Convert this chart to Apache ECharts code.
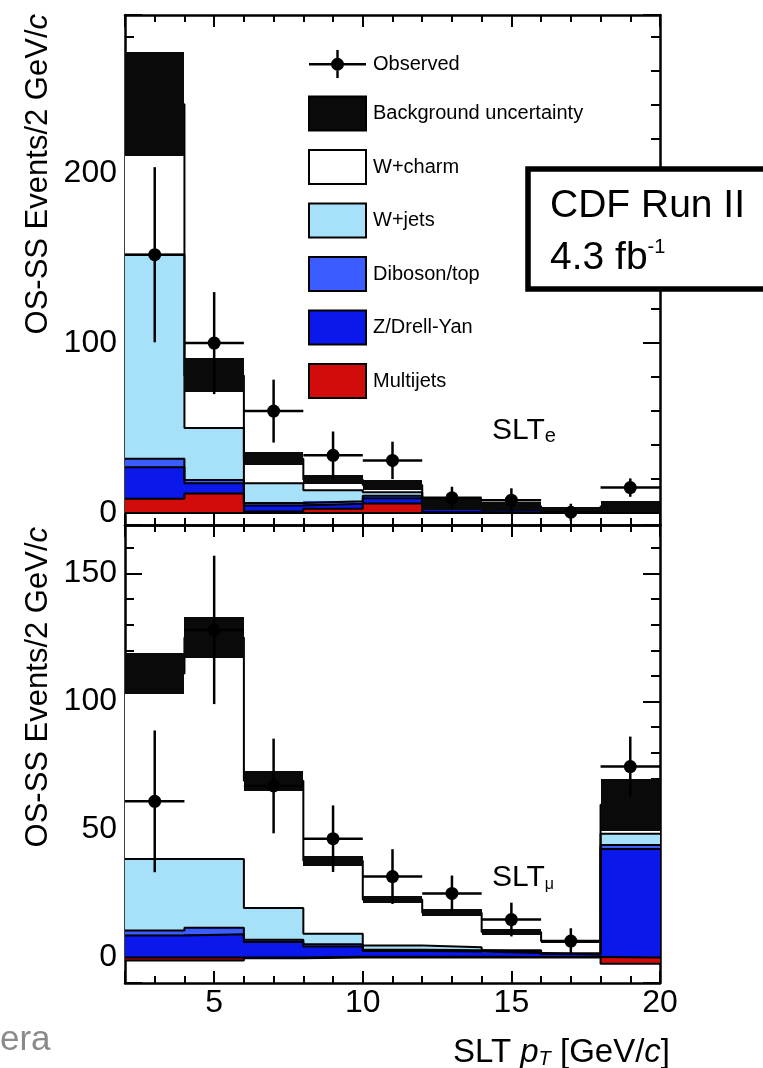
<!DOCTYPE html>
<html>
<head>
<meta charset="utf-8">
<script src="https://cdn.jsdelivr.net/npm/echarts@6/dist/echarts.min.js"></script>
<style>
  html, body { margin: 0; padding: 0; background: #fff; }
  #chart { width: 763px; height: 1068px; }
</style>
</head>
<body>
<div id="chart"></div>
<script>
// bin edges, SLT pT in GeV/c
const binEdges = [2, 4, 6, 8, 10, 12, 14, 16, 18, 20];

// SLT_e panel, OS-SS events per 2 GeV/c (stacked bottom to top)
const eMultijets = [8.5, 11.5, 1, 2.5, 5.7, 0.5, 0.3, 0.1, 0.2];
const eZdy = [18.5, 6, 3.5, 3, 3, 2.5, 1.5, 0.6, 2.5];
const eDiboson = [5, 2, 1.5, 1.5, 1.5, 0.5, 0.4, 0.3, 0.4];
const eWjets = [120, 30.5, 11.5, 6.5, 2, 0.8, 0.8, 0.4, 0.4];
const eWcharm = [88.5, 31, 14.5, 6.2, 4.3, 1, 1, 0.4, 0.4];
const eBkgErr = [30.5, 10, 3.8, 2.7, 3, 3.3, 2.7, 1.9, 3.3];
const eObserved = [152, 100, 60, 34, 31, 9, 7.6, 0.5, 15];
const eObsErr = [51.5, 30, 18.5, 14, 11, 6.5, 7, 5, 5.4];

// SLT_mu panel
const muMultijets = [-1.2, -1.2, -0.3, 0.3, 0.3, 0.3, 0.2, 0.2, -2.5];
const muZdy = [8.6, 9.1, 6, 4, 2.2, 2, 1.5, 0.8, 42.4];
const muDiboson = [1.9, 2.5, 0.9, 0.8, 0.5, 0.5, 0.5, 0.3, 1.5];
const muWjets = [28, 26.9, 12.4, 4.1, 1.7, 1.2, 0.6, 0.3, 4.4];
const muWcharm = [72.5, 86.5, 49.7, 28.6, 17.9, 13.5, 7.1, 4.7, 11.4];
const muBkgErr = [8, 8, 4, 2, 1.3, 1.5, 1.3, 0.7, 10.1];
const muObserved = [61, 128, 67, 46.4, 31.6, 25, 14.8, 6.4, 74.6];
const muObsErr = [27.7, 29, 18.5, 13, 10.7, 7, 6.6, 5, 11.7];

const componentNames = ["Multijets", "Z/Drell-Yan", "Diboson/top", "W+jets", "W+charm"];
const componentColors = ["#d20b0b", "#0a18ec", "#3b5cff", "#a6e1f9", "#ffffff"];
const BAND_COLOR = "#0a0a0a";
const FONT = "Liberation Sans, Arial, Helvetica, sans-serif";

// stack like a histogram: positives upward from 0, negatives downward
function stackBins(parts) {
  const pos = parts[0].map(() => 0);
  const neg = parts[0].map(() => 0);
  return parts.map((vals) =>
    vals.map((v, i) => {
      if (v >= 0) {
        const lo = pos[i];
        pos[i] += v;
        return [lo, pos[i]];
      }
      const hi = neg[i];
      neg[i] += v;
      return [neg[i], hi];
    })
  );
}

function renderBox(params, api) {
  const p0 = api.coord([api.value(0), api.value(2)]);
  const p1 = api.coord([api.value(1), api.value(3)]);
  // snap to whole pixels so neighbouring bins do not show seams
  const x0 = Math.round(p0[0]);
  const x1 = Math.round(p1[0]);
  const yTop = Math.round(p1[1]);
  const yBot = Math.round(p0[1]);
  return {
    type: "rect",
    shape: { x: x0, y: yTop, width: x1 - x0, height: yBot - yTop },
    style: { fill: api.visual("color") },
  };
}

function renderErrorBar(params, api) {
  const left = api.coord([api.value(0), api.value(2)]);
  const right = api.coord([api.value(1), api.value(2)]);
  const cx = (api.value(0) + api.value(1)) / 2;
  const top = api.coord([cx, api.value(2) + api.value(3)]);
  const bottom = api.coord([cx, api.value(2) - api.value(3)]);
  const style = { stroke: "#000", lineWidth: 2.5, opacity: 1 };
  return {
    type: "group",
    children: [
      { type: "line", shape: { x1: left[0], y1: left[1], x2: right[0], y2: right[1] }, style },
      { type: "line", shape: { x1: top[0], y1: top[1], x2: bottom[0], y2: bottom[1] }, style },
    ],
  };
}

function stepData(levels) {
  return binEdges.map((x, j) => [x, levels[Math.min(j, levels.length - 1)]]);
}

function panelSeries(g, parts, bkgErr, obs, obsErr) {
  const axes = { xAxisIndex: 2 * g, yAxisIndex: 2 * g };
  const stacked = stackBins(parts);
  const series = [];

  stacked.forEach((rows, k) => {
    series.push({
      type: "custom",
      name: componentNames[k],
      ...axes,
      renderItem: renderBox,
      itemStyle: { color: componentColors[k] },
      encode: { x: [0, 1], y: [2, 3] },
      data: rows.map((r, i) => [binEdges[i], binEdges[i + 1], r[0], r[1]]),
      clip: true,
      silent: true,
      z: 1,
    });
  });

  const bottom = stacked[0].map((r, i) => Math.min(...stacked.map((c) => c[i][0])));
  const levels = [bottom, ...stacked.map((c) => c.map((r) => r[1]))];
  levels.forEach((lv) => {
    series.push({
      type: "line",
      ...axes,
      step: "end",
      symbol: "none",
      data: stepData(lv),
      lineStyle: { color: "#000", width: 2 },
      clip: true,
      silent: true,
      z: 2,
    });
  });

  const total = stacked[stacked.length - 1].map((r) => r[1]);
  series.push({
    type: "custom",
    name: "Background uncertainty",
    ...axes,
    renderItem: renderBox,
    itemStyle: { color: BAND_COLOR },
    encode: { x: [0, 1], y: [2, 3] },
    data: total.map((t, i) => [binEdges[i], binEdges[i + 1], t - bkgErr[i], t + bkgErr[i]]),
    clip: true,
    silent: true,
    z: 3,
  });

  series.push({
    type: "custom",
    name: "obs-err",
    ...axes,
    renderItem: renderErrorBar,
    encode: { x: [0, 1], y: 2 },
    data: obs.map((y, i) => [binEdges[i], binEdges[i + 1], y, obsErr[i]]),
    clip: true,
    silent: true,
    z: 4,
  });

  series.push({
    type: "scatter",
    name: "Observed",
    ...axes,
    symbol: "circle",
    symbolSize: 13,
    itemStyle: { color: "#000", opacity: 1 },
    data: obs.map((y, i) => [(binEdges[i] + binEdges[i + 1]) / 2, y]),
    silent: true,
    z: 5,
  });

  return series;
}

const axisLine = { onZero: false, lineStyle: { color: "#000", width: 2.5 } };

function xAxes(g, showLabels) {
  const base = {
    type: "value",
    gridIndex: g,
    min: 2,
    max: 20,
    splitNumber: 4,
    axisLine,
    axisTick: { inside: true, length: 12, lineStyle: { color: "#000", width: 2 } },
    minorTick: { show: true, splitNumber: 5, length: 7, lineStyle: { color: "#000", width: 2 } },
    splitLine: { show: false },
  };
  return [
    {
      ...base,
      position: "bottom",
      axisLabel: {
        show: showLabels,
        showMinLabel: false,
        color: "#000",
        fontFamily: FONT,
        fontSize: 32,
        margin: 4,
      },
    },
    { ...base, position: "top", axisLabel: { show: false } },
  ];
}

function yAxes(g, min, max, splitNumber) {
  const base = {
    type: "value",
    gridIndex: g,
    min,
    max,
    splitNumber,
    axisLine,
    axisTick: { inside: true, length: 17, lineStyle: { color: "#000", width: 2 } },
    minorTick: { show: true, splitNumber: 5, length: 9, lineStyle: { color: "#000", width: 2 } },
    splitLine: { show: false },
  };
  return [
    {
      ...base,
      position: "left",
      axisLabel: {
        showMinLabel: false,
        showMaxLabel: false,
        color: "#000",
        fontFamily: FONT,
        fontSize: 32,
        margin: 8,
      },
    },
    { ...base, position: "right", axisLabel: { show: false } },
  ];
}

const OBS_ICON =
  "path://M0 13H57V15.5H0Z M27.3 0H29.7V28H27.3Z M22 14.25A6.5 6.5 0 1 1 35 14.25A6.5 6.5 0 1 1 22 14.25Z";

const legendData = [
  { name: "Observed", icon: OBS_ICON, itemStyle: { color: "#000", borderWidth: 0 } },
  { name: "Background uncertainty", icon: "rect", itemStyle: { color: BAND_COLOR, borderColor: "#000", borderWidth: 2 } },
  ...[4, 3, 2, 1, 0].map((k) => ({
    name: componentNames[k],
    icon: "rect",
    itemStyle: { color: componentColors[k], borderColor: "#000", borderWidth: 2 },
  })),
];

const txt = (size, extra) => ({ fontFamily: FONT, fontSize: size, fill: "#000", ...extra });

const graphics = [
  {
    type: "text",
    x: 38,
    y: 14,
    rotation: Math.PI / 2,
    style: {
      text: "{a|OS-SS Events/2 GeV/}{i|c}",
      align: "right",
      verticalAlign: "middle",
      rich: { a: txt(31), i: txt(31, { fontStyle: "italic" }) },
    },
  },
  {
    type: "text",
    x: 38,
    y: 527,
    rotation: Math.PI / 2,
    style: {
      text: "{a|OS-SS Events/2 GeV/}{i|c}",
      align: "right",
      verticalAlign: "middle",
      rich: { a: txt(31), i: txt(31, { fontStyle: "italic" }) },
    },
  },
  {
    type: "text",
    x: 670,
    y: 1044,
    style: {
      text: "{a|SLT }{i|p}{s|T}{a| [GeV/}{i|c}{a|]}",
      align: "right",
      verticalAlign: "middle",
      rich: {
        a: txt(33, { lineHeight: 50, verticalAlign: "bottom" }),
        i: txt(33, { fontStyle: "italic", lineHeight: 50, verticalAlign: "bottom" }),
        s: txt(20, { fontStyle: "italic", lineHeight: 14, verticalAlign: "bottom" }),
      },
    },
  },
  {
    type: "text",
    x: 492,
    y: 424,
    style: {
      text: "{a|SLT}{s|e}",
      align: "left",
      verticalAlign: "middle",
      rich: {
        a: txt(30, { lineHeight: 44, verticalAlign: "bottom" }),
        s: txt(20, { lineHeight: 12, verticalAlign: "bottom" }),
      },
    },
  },
  {
    type: "text",
    x: 492,
    y: 871,
    style: {
      text: "{a|SLT}{s|\u03bc}",
      align: "left",
      verticalAlign: "middle",
      rich: {
        a: txt(30, { lineHeight: 44, verticalAlign: "bottom" }),
        s: txt(16, { lineHeight: 10, verticalAlign: "bottom" }),
      },
    },
  },
  {
    type: "rect",
    z: 100,
    shape: { x: 528, y: 169, width: 260, height: 120 },
    style: { fill: "#fff", stroke: "#000", lineWidth: 5.5 },
  },
  {
    type: "text",
    z: 101,
    x: 550,
    y: 206,
    style: txt(39, { text: "CDF Run II", align: "left", verticalAlign: "middle" }),
  },
  {
    type: "text",
    z: 101,
    x: 550,
    y: 254,
    style: {
      text: "{a|4.3 fb}{u|-1}",
      align: "left",
      verticalAlign: "middle",
      rich: {
        a: txt(39, { lineHeight: 48, verticalAlign: "bottom" }),
        u: txt(20, { lineHeight: 20, padding: [0, 0, 21, 0], verticalAlign: "bottom" }),
      },
    },
  },
  {
    type: "text",
    x: 0,
    y: 1040,
    style: txt(35, { text: "era", fill: "#8a8a8a", align: "left", verticalAlign: "middle" }),
  },
];

const chart = echarts.init(document.getElementById("chart"));
chart.setOption({
  animation: false,
  backgroundColor: "#fff",
  grid: [
    { left: 125, right: 103, top: 15, height: 510, outerBoundsMode: "none" },
    { left: 125, right: 103, top: 525, height: 458, outerBoundsMode: "none" },
  ],
  xAxis: [...xAxes(0, false), ...xAxes(1, true)],
  yAxis: [...yAxes(0, -7, 293, 3), ...yAxes(1, -10, 169, 4)],
  legend: {
    left: 303,
    top: 45,
    orient: "vertical",
    itemWidth: 57,
    itemHeight: 34,
    itemGap: 17.5,
    symbolKeepAspect: true,
    selectedMode: false,
    textStyle: { fontFamily: FONT, fontSize: 20, color: "#000", padding: [0, 0, 0, 2] },
    data: legendData,
  },
  graphic: graphics,
  series: [
    ...panelSeries(0, [eMultijets, eZdy, eDiboson, eWjets, eWcharm], eBkgErr, eObserved, eObsErr),
    ...panelSeries(1, [muMultijets, muZdy, muDiboson, muWjets, muWcharm], muBkgErr, muObserved, muObsErr),
  ],
});
</script>
</body>
</html>
